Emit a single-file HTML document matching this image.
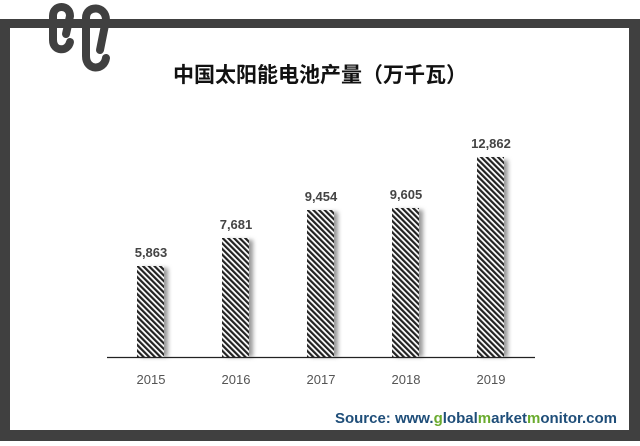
<!DOCTYPE html>
<html><head><meta charset="utf-8"><style>
html,body{margin:0;padding:0;background:#fff;}
body{width:640px;height:441px;overflow:hidden;position:relative;font-family:"Liberation Sans","Noto Sans CJK SC",sans-serif;}
</style></head><body>
<svg width="640" height="441" viewBox="0 0 640 441" xmlns="http://www.w3.org/2000/svg">
<defs>
<pattern id="h" width="4" height="4" patternUnits="userSpaceOnUse" patternTransform="rotate(-45)">
<rect width="4" height="4" fill="#fff"/><rect width="2.2" height="4" fill="#222"/>
</pattern>
<filter id="s" x="-20%" y="-5%" width="160%" height="110%"><feGaussianBlur stdDeviation="2"/></filter>
</defs>
<rect x="0" y="19" width="640" height="422" fill="#404040"/>
<rect x="10" y="28" width="619" height="402" fill="#fff"/>
<!-- logo -->
<g fill="none" stroke="#404040" stroke-width="8" stroke-linecap="round" stroke-linejoin="round">
<path d="M66 34 L70 16 C70 4 53 4 53 16 L53 40 C53 52 68 52 70 42"/>
<path d="M100 50 L106 20 C106 5 86 5 86 18 L86 56 C86 71 104 71 106 58"/>
</g>
<text x="320" y="82" text-anchor="middle" font-size="21" font-weight="bold" fill="#111" font-family="Liberation Sans,Noto Sans CJK SC,sans-serif">中国太阳能电池产量（万千瓦）</text>
<g>
<rect x="141" y="268" width="27" height="89" fill="#999" filter="url(#s)"/>
<rect x="226" y="240" width="27" height="117" fill="#999" filter="url(#s)"/>
<rect x="311" y="212" width="27" height="145" fill="#999" filter="url(#s)"/>
<rect x="396" y="210" width="27" height="147" fill="#999" filter="url(#s)"/>
<rect x="481" y="160" width="27" height="197" fill="#999" filter="url(#s)"/>
<rect x="137" y="266" width="27" height="91" fill="url(#h)"/>
<rect x="222" y="238" width="27" height="119" fill="url(#h)"/>
<rect x="307" y="210" width="27" height="147" fill="url(#h)"/>
<rect x="392" y="208" width="27" height="149" fill="url(#h)"/>
<rect x="477" y="157" width="27" height="200" fill="url(#h)"/>
</g>
<line x1="107" y1="357.5" x2="535" y2="357.5" stroke="#222" stroke-width="1.3"/>
<g font-size="13" font-weight="bold" fill="#444" text-anchor="middle">
<text x="151" y="257">5,863</text>
<text x="236" y="229">7,681</text>
<text x="321" y="201">9,454</text>
<text x="406" y="199">9,605</text>
<text x="491" y="148">12,862</text>
</g>
<g font-size="13" fill="#555" text-anchor="middle">
<text x="151" y="384">2015</text>
<text x="236" y="384">2016</text>
<text x="321" y="384">2017</text>
<text x="406" y="384">2018</text>
<text x="491" y="384">2019</text>
</g>
<text x="617" y="423" text-anchor="end" font-size="15" font-weight="bold" fill="#1f4e79">Source: www.<tspan fill="#6aab2e">g</tspan>lobal<tspan fill="#6aab2e">m</tspan>arket<tspan fill="#6aab2e">m</tspan>onitor.com</text>
</svg>
</body></html>
